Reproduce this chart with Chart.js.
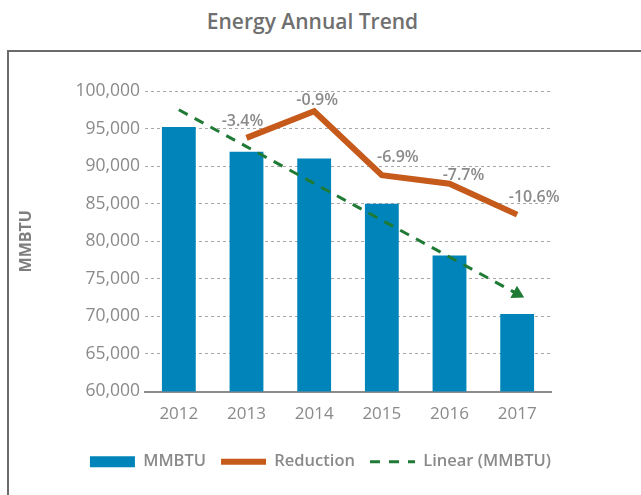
<!DOCTYPE html>
<html>
<head>
<meta charset="utf-8">
<script src="https://cdn.jsdelivr.net/npm/chart.js@4/dist/chart.umd.min.js"></script>
<style>
  body { margin: 0; width: 641px; height: 495px; overflow: hidden; background: #fff; position: relative; }
  .frame { position: absolute; left: 7px; top: 50px; width: 700px; height: 500px; border: 2px solid #6b6b6b; }
  h1 { position: absolute; left: 0; top: 11px; width: 625px; margin: 0; text-align: center;
       font: 600 21px/21px 'Open Sans', sans-serif; color: #6f6f6f; }
  canvas { position: absolute; left: 0; top: 0; }
</style>
</head>
<body>
<div class="frame"></div>
<h1>Energy Annual Trend</h1>
<canvas id="chart" width="641" height="495"></canvas>
<script>
// values
const years = ['2012', '2013', '2014', '2015', '2016', '2017']
const mmbtu = [95200, 91900, 91000, 85000, 78100, 70300]
const reduction = [null, -3.4, -0.9, -6.9, -7.7, -10.6]
const linearTrend = [97500, 92600, 87700, 82800, 77900, 73000]

const BLUE = '#0084b9'
const ORANGE = '#c55a1b'
const GREEN = '#1f7a35'
const GREY = '#8a8a8a'

Chart.defaults.font.family = "'Open Sans', sans-serif"
Chart.defaults.color = GREY

// draws the % labels next to the Reduction line
const reductionLabels = {
    id: 'reductionLabels',
    afterDatasetsDraw (chart, args, opts) {
        const ctx = chart.ctx
        const meta = chart.getDatasetMeta(1)
        ctx.save()
        ctx.font = "600 16px 'Open Sans', sans-serif"
        ctx.fillStyle = GREY
        ctx.textAlign = 'center'
        ctx.textBaseline = 'middle'
        meta.data.forEach((pt, i) => {
            const v = reduction[i]
            if (v == null) return
            const off = opts.offsets[i]
            ctx.fillText(v.toFixed(1) + '%', pt.x + off[0], pt.y + off[1])
        })
        ctx.restore()
    }
}

const lastIdx = linearTrend.length - 1

new Chart(document.getElementById('chart'), {
    data: {
        labels: years,
        datasets: [
            {
                type: 'bar',
                label: 'MMBTU',
                data: mmbtu,
                backgroundColor: BLUE,
                categoryPercentage: 1,
                barPercentage: 0.5,
                order: 3
            },
            {
                type: 'line',
                label: 'Reduction',
                data: reduction,
                yAxisID: 'y2',
                borderColor: ORANGE,
                borderWidth: 6,
                borderJoinStyle: 'miter',
                pointRadius: 0,
                tension: 0,
                order: 2
            },
            {
                type: 'line',
                label: 'Linear (MMBTU)',
                data: linearTrend,
                borderColor: GREEN,
                backgroundColor: GREEN,
                borderWidth: 3,
                borderDash: [10, 8],
                pointStyle: 'triangle',
                pointRadius: (c) => c.dataIndex === lastIdx ? 8 : 0,
                pointRotation: 118,
                pointBorderWidth: 0,
                order: 1
            }
        ]
    },
    options: {
        responsive: false,
        animation: false,
        layout: { padding: { top: 91, left: 0, right: 0, bottom: 15 } },
        scales: {
            x: {
                grid: { display: false },
                border: { display: true, color: '#8c8c8c', width: 2 },
                ticks: { font: { size: 17 }, color: GREY, padding: 4 },
                afterFit: (s) => { s.height = 47 }
            },
            y: {
                min: 60000,
                max: 100000,
                ticks: {
                    stepSize: 5000,
                    font: { size: 17.5 },
                    color: GREY,
                    padding: 5,
                    callback: (v) => v.toLocaleString('en-US')
                },
                grid: { color: '#a8a8a8', lineWidth: 1, drawTicks: false },
                border: { display: false, dash: [3, 3] },
                title: {
                    display: true,
                    text: 'MMBTU',
                    color: '#7f7f7f',
                    font: { size: 16, weight: '700' },
                    padding: { top: 17, bottom: 0 }
                },
                afterFit: (s) => { s.width = 145 }
            },
            y2: {
                position: 'right',
                min: -27.2,
                max: 1,
                ticks: { display: false },
                grid: { display: false },
                border: { display: false },
                afterFit: (s) => { s.width = 90 }
            }
        },
        plugins: {
            legend: {
                position: 'bottom',
                labels: {
                    usePointStyle: true,
                    pointStyleWidth: 45,
                    boxHeight: 11,
                    padding: 15,
                    color: GREY,
                    font: { size: 16.5, weight: '600' },
                    generateLabels: () => [
                        { text: 'MMBTU', fillStyle: BLUE, strokeStyle: BLUE, lineWidth: 0, pointStyle: 'rect', fontColor: GREY, datasetIndex: 0 },
                        { text: 'Reduction', fillStyle: ORANGE, strokeStyle: ORANGE, lineWidth: 6, pointStyle: 'line', fontColor: GREY, datasetIndex: 1 },
                        { text: 'Linear (MMBTU)', fillStyle: GREEN, strokeStyle: GREEN, lineWidth: 3, lineDash: [10, 9], pointStyle: 'line', fontColor: GREY, datasetIndex: 2 }
                    ]
                }
            },
            tooltip: { enabled: false },
            reductionLabels: {
                offsets: [[0, 0], [-4, -16], [3, -11], [16, -18], [14, -8], [17, -17]]
            }
        }
    },
    plugins: [reductionLabels]
})
</script>
</body>
</html>
